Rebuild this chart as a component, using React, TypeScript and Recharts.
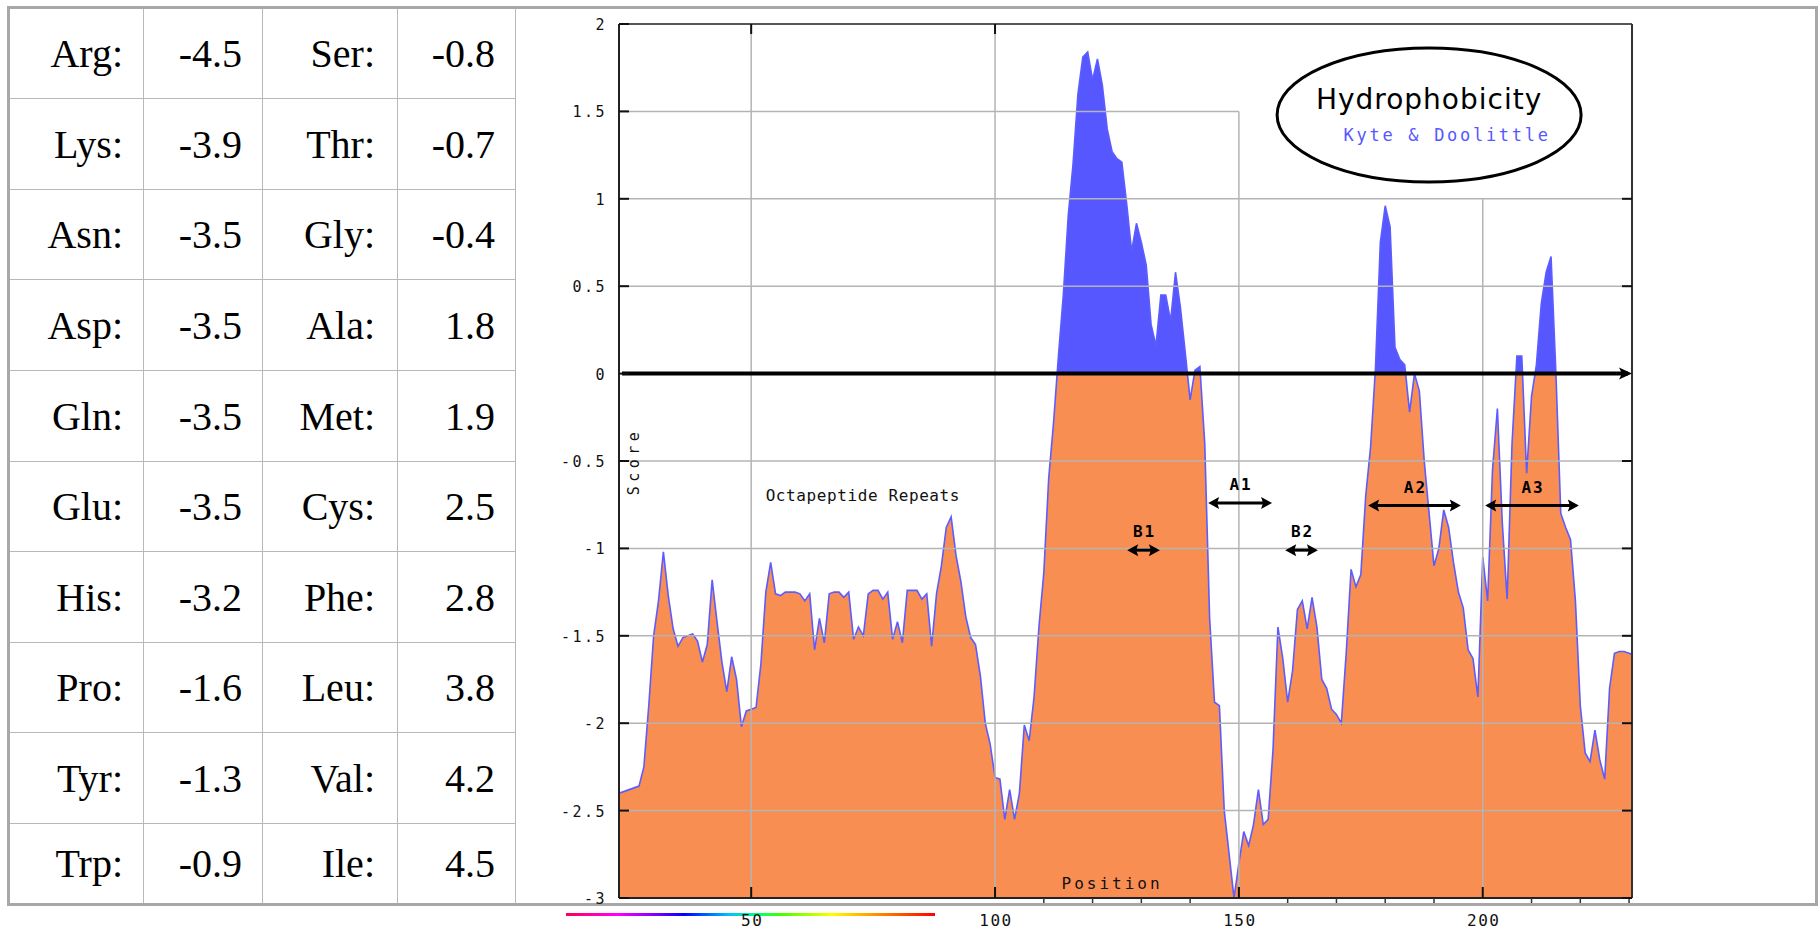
import {
  ComposedChart,
  Area,
  XAxis,
  YAxis,
  ReferenceLine,
  ReferenceDot,
} from 'recharts';

// Kyte & Doolittle scale shown in the table
const residuesA = ['Arg', 'Lys', 'Asn', 'Asp', 'Gln', 'Glu', 'His', 'Pro', 'Tyr', 'Trp'];
const scoresA = [-4.5, -3.9, -3.5, -3.5, -3.5, -3.5, -3.2, -1.6, -1.3, -0.9];
const residuesB = ['Ser', 'Thr', 'Gly', 'Ala', 'Met', 'Cys', 'Phe', 'Leu', 'Val', 'Ile'];
const scoresB = [-0.8, -0.7, -0.4, 1.8, 1.9, 2.5, 2.8, 3.8, 4.2, 4.5];

// hydrophobicity profile, one value per residue starting at 23
const firstResidue = 23;
const profile = [
  -2.4, -2.39, -2.38, -2.37, -2.36, -2.25, -1.9, -1.5, -1.3, -1.02,
  -1.27, -1.46, -1.56, -1.51, -1.5, -1.49, -1.53, -1.65, -1.55, -1.18,
  -1.42, -1.65, -1.82, -1.62, -1.75, -2.02, -1.93, -1.92, -1.91, -1.66,
  -1.25, -1.08, -1.26, -1.27, -1.25, -1.25, -1.25, -1.26, -1.3, -1.26,
  -1.58, -1.4, -1.54, -1.26, -1.25, -1.25, -1.28, -1.25, -1.52, -1.45,
  -1.5, -1.26, -1.24, -1.24, -1.29, -1.25, -1.52, -1.42, -1.54, -1.24,
  -1.24, -1.24, -1.29, -1.26, -1.56, -1.26, -1.1, -0.88, -0.82, -1.04,
  -1.19, -1.39, -1.51, -1.55, -1.73, -2.0, -2.12, -2.31, -2.32, -2.55,
  -2.38, -2.55, -2.4, -2.01, -2.1, -1.85, -1.45, -1.14, -0.6, -0.28,
  0.1, 0.45, 0.9, 1.2, 1.6, 1.81, 1.84, 1.68, 1.8, 1.65,
  1.4, 1.27, 1.23, 1.21, 0.97, 0.7, 0.86, 0.75, 0.62, 0.28,
  0.16, 0.45, 0.45, 0.3, 0.58, 0.38, 0.12, -0.15, 0.02, 0.04,
  -0.4, -1.4, -1.88, -1.9, -2.5, -2.75, -3.0, -2.8, -2.62, -2.7,
  -2.58, -2.38, -2.58, -2.55, -2.15, -1.45, -1.63, -1.88, -1.7, -1.35,
  -1.3, -1.46, -1.28, -1.45, -1.75, -1.8, -1.92, -1.95, -2.0, -1.6,
  -1.12, -1.22, -1.15, -0.7, -0.42, 0.03, 0.75, 0.96, 0.84, 0.15,
  0.08, 0.05, -0.22, 0.0, -0.1, -0.5, -0.8, -1.1, -1.0, -0.78,
  -0.88, -1.08, -1.25, -1.34, -1.58, -1.63, -1.85, -1.05, -1.3, -0.55,
  -0.2, -0.85, -1.29, -0.4, 0.1, 0.1, -0.57, -0.13, 0.05, 0.4,
  0.58, 0.67, 0.0, -0.8, -0.88, -0.95, -1.3, -1.9, -2.17, -2.22,
  -2.04, -2.21, -2.32, -1.8, -1.6, -1.59, -1.59, -1.6, -1.61,
];

const xTicks = [50, 100, 150, 200];
const xMinorTicks = [110, 120, 130, 140, 160, 170, 180, 190, 210, 220, 230];
const xTopTicks = [50, 100];
const yTicks = [-3, -2.5, -2, -1.5, -1, -0.5, 0, 0.5, 1, 1.5, 2];
const yGrid = [-2.5, -2, -1.5, -1, -0.5, 0.5, 1];

// labelled regions: label, from residue, to residue, score level
const regionLabels = ['B1', 'A1', 'B2', 'A2', 'A3'];
const regionFrom = [127.1, 143.7, 159.5, 176.5, 200.5];
const regionTo = [133.8, 156.8, 166.2, 195.5, 219.7];
const regionLevel = [-1.01, -0.74, -1.01, -0.755, -0.755];

const X_DOMAIN: [number, number] = [22.9, 230.6];
const Y_DOMAIN: [number, number] = [-3, 2];
const PLOT = { left: 619, right: 1632, top: 24, bottom: 898 };

const ORANGE = '#f98e52';
const BLUE = '#5757ff';
const GRID = '#b4b4b4';
const MONO = '"DejaVu Sans Mono", monospace';

const chartData = profile.map((score, i) => ({ pos: firstResidue + i, score }));
const zeroStop = (Y_DOMAIN[1] - 0) / (Y_DOMAIN[1] - Y_DOMAIN[0]);

const colWidths = [134, 119, 135, 118];
const rowHeights = [90, 91, 90, 91, 91, 90, 91, 90, 91, 79];

function XTick(props: any) {
  const { x, payload } = props;
  const v = payload.value;
  if (!xTicks.includes(v)) {
    return <line x1={x} x2={x} y1={PLOT.bottom} y2={PLOT.bottom + 5} stroke="#333" strokeWidth={1.5} />;
  }
  return (
    <g>
      <line x1={x} x2={x} y1={PLOT.bottom} y2={PLOT.bottom - 11} stroke="#111" strokeWidth={2} />
      {xTopTicks.includes(v) && (
        <line x1={x} x2={x} y1={PLOT.top} y2={PLOT.top + 10} stroke="#111" strokeWidth={2} />
      )}
      <text x={x + 1} y={926} textAnchor="middle" fontFamily={MONO} fontSize={16} letterSpacing={1.5} fill="#111">
        {v}
      </text>
    </g>
  );
}

function YTick(props: any) {
  const { y, payload } = props;
  const v = payload.value;
  return (
    <g>
      <line x1={PLOT.left} x2={PLOT.left + 10} y1={y} y2={y} stroke="#111" strokeWidth={2} />
      {v <= 1 && v !== 0 && (
        <line x1={PLOT.right - 10} x2={PLOT.right} y1={y} y2={y} stroke="#111" strokeWidth={2} />
      )}
      <text x={PLOT.left - 12} y={y + 6} textAnchor="end" fontFamily={MONO} fontSize={15} letterSpacing={2.5} fill="#111">
        {String(v)}
      </text>
    </g>
  );
}

const zeroAxis = (p: any) => (
  <g>
    <line x1={p.x1 + 3} x2={p.x2 - 4} y1={p.y1} y2={p.y2} stroke="#000" strokeWidth={4} />
    <path d={`M${p.x2} ${p.y2} l-13 -6 l3 6 l-3 6 Z`} fill="#000" />
  </g>
);

const regionArrow = (label: string) => (p: any) => {
  const y = p.y1;
  return (
    <g>
      <line x1={p.x1 + 6} x2={p.x2 - 6} y1={y} y2={y} stroke="#000" strokeWidth={3} />
      <path d={`M${p.x1} ${y} l11 -6 l-2 6 l2 6 Z`} fill="#000" />
      <path d={`M${p.x2} ${y} l-11 -6 l2 6 l-2 6 Z`} fill="#000" />
      <text x={(p.x1 + p.x2) / 2 + 1} y={y - 13} textAnchor="middle" fontFamily={MONO} fontWeight="bold" fontSize={16} letterSpacing={2} fill="#000">
        {label}
      </text>
    </g>
  );
};

const legendBadge = (p: any) => (
  <g>
    <ellipse cx={p.cx} cy={p.cy} rx={152} ry={67} fill="#fff" stroke="#000" strokeWidth={3} />
    <text x={p.cx} y={p.cy - 6} textAnchor="middle" fontFamily='"DejaVu Sans", sans-serif' fontSize={28} letterSpacing={1} fill="#000">
      Hydrophobicity
    </text>
    <text x={p.cx + 18} y={p.cy + 26} textAnchor="middle" fontFamily={MONO} fontSize={17} letterSpacing={2.7} fill={BLUE}>
      Kyte &amp; Doolittle
    </text>
  </g>
);

const plainText = (text: string, size: number, spacing: number) => (p: any) => (
  <text x={p.cx} y={p.cy} textAnchor="middle" fontFamily={MONO} fontSize={size} letterSpacing={spacing} fill="#111">
    {text}
  </text>
);

const scoreTitle = (p: any) => (
  <text
    x={p.cx}
    y={p.cy + 5}
    transform={`rotate(-90 ${p.cx} ${p.cy})`}
    textAnchor="middle"
    fontFamily={MONO}
    fontSize={15}
    letterSpacing={4.5}
    fill="#111"
  >
    Score
  </text>
);

export default function App() {
  return (
    <div style={{ position: 'absolute', left: 0, top: 0, width: 1820, height: 930, background: '#fff', overflow: 'hidden' }}>
      <div
        style={{
          position: 'absolute',
          left: 7,
          top: 6,
          width: 1811,
          height: 900,
          boxSizing: 'border-box',
          border: '3px solid #a8a8a8',
          display: 'grid',
          gridTemplateColumns: `${colWidths.map((w) => w + 'px').join(' ')} 1fr`,
          gridTemplateRows: rowHeights.map((h) => h + 'px').join(' '),
          fontFamily: '"Liberation Serif", serif',
          fontSize: 40,
          color: '#000',
        }}
      >
        {residuesA.map((name, i) => {
          const cells = [name + ':', scoresA[i].toFixed(1), residuesB[i] + ':', scoresB[i].toFixed(1)];
          return cells.map((t, j) => (
            <div
              key={`${i}-${j}`}
              style={{
                gridRow: i + 1,
                gridColumn: j + 1,
                borderRight: '1px solid #b8b8b8',
                borderBottom: i < residuesA.length - 1 ? '1px solid #b8b8b8' : 'none',
                display: 'flex',
                alignItems: 'center',
                justifyContent: 'flex-end',
                paddingRight: j === 2 ? 22 : 20,
              }}
            >
              {t}
            </div>
          ));
        })}
      </div>

      <div
        style={{
          position: 'absolute',
          left: 566,
          top: 913,
          width: 369,
          height: 3,
          background:
            'linear-gradient(to right, #ff0050, #ff00ff 14%, #8000ff 24%, #0000ff 32%, #00c0ff 44%, #00ff80 52%, #40ff00 58%, #ffff00 72%, #ff8000 86%, #ff0000)',
        }}
      />

      <div style={{ position: 'absolute', left: 0, top: 0 }}>
        <ComposedChart
          width={1820}
          height={930}
          data={chartData}
          margin={{ top: PLOT.top, right: 1820 - PLOT.right, bottom: 2, left: PLOT.left - 60 }}
        >
          <defs>
            <linearGradient id="kdFill" gradientUnits="userSpaceOnUse" x1="0" y1={PLOT.top} x2="0" y2={PLOT.bottom}>
              <stop offset={zeroStop} stopColor={BLUE} />
              <stop offset={zeroStop} stopColor={ORANGE} />
            </linearGradient>
          </defs>
          <XAxis
            dataKey="pos"
            type="number"
            domain={X_DOMAIN}
            allowDataOverflow
            ticks={[...xTicks, ...xMinorTicks]}
            interval={0}
            axisLine={false}
            tickLine={false}
            tick={XTick}
            height={30}
          />
          <YAxis
            type="number"
            domain={Y_DOMAIN}
            allowDataOverflow
            ticks={yTicks}
            interval={0}
            width={60}
            axisLine={{ stroke: '#222', strokeWidth: 2 }}
            tickLine={false}
            tick={YTick}
          />
          <Area
            type="linear"
            dataKey="score"
            baseValue={-3}
            stroke="#5c5cff"
            strokeWidth={1.6}
            fill="url(#kdFill)"
            fillOpacity={1}
            dot={false}
            activeDot={false}
            isAnimationActive={false}
          />

          {yGrid.map((v) => (
            <ReferenceLine key={`gy${v}`} y={v} stroke={GRID} strokeWidth={1.5} />
          ))}
          <ReferenceLine segment={[{ x: X_DOMAIN[0], y: 1.5 }, { x: 150, y: 1.5 }]} stroke={GRID} strokeWidth={1.5} />
          <ReferenceLine x={50} stroke={GRID} strokeWidth={1.5} />
          <ReferenceLine x={100} stroke={GRID} strokeWidth={1.5} />
          <ReferenceLine segment={[{ x: 150, y: -3 }, { x: 150, y: 1.5 }]} stroke={GRID} strokeWidth={1.5} />
          <ReferenceLine segment={[{ x: 200, y: -3 }, { x: 200, y: 1 }]} stroke={GRID} strokeWidth={1.5} />

          <ReferenceLine y={2} stroke="#555" strokeWidth={2} />
          <ReferenceLine y={-3} stroke="#222" strokeWidth={2} />
          <ReferenceLine x={X_DOMAIN[1]} stroke="#333" strokeWidth={2} />
          <ReferenceLine y={0} shape={zeroAxis} />

          {regionLabels.map((label, i) => (
            <ReferenceLine
              key={label}
              segment={[{ x: regionFrom[i], y: regionLevel[i] }, { x: regionTo[i], y: regionLevel[i] }]}
              shape={regionArrow(label)}
            />
          ))}

          <ReferenceDot x={189} y={1.48} r={1} shape={legendBadge} />
          <ReferenceDot x={72.9} y={-0.727} r={1} shape={plainText('Octapeptide Repeats', 16, 0.6)} />
          <ReferenceDot x={124} y={-2.946} r={1} shape={plainText('Position', 16, 3)} />
          <ReferenceDot x={26} y={-0.503} r={1} shape={scoreTitle} />
        </ComposedChart>
      </div>
    </div>
  );
}
